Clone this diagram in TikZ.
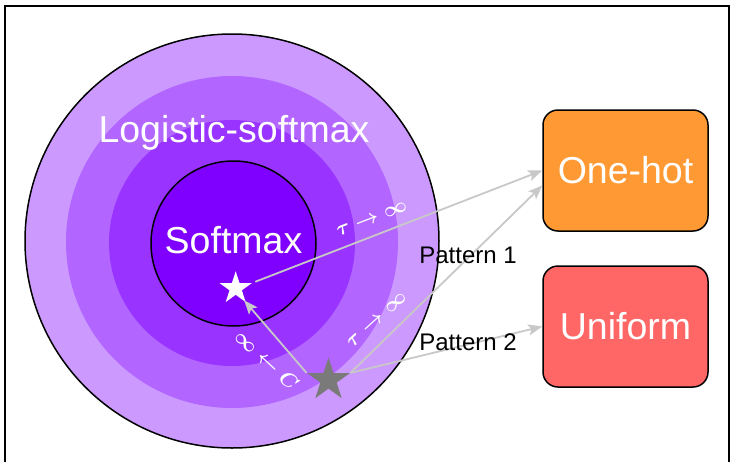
\documentclass[tikz,border=0pt]{standalone}
\usepackage{fontspec}
\setmainfont{Liberation Sans}
\usetikzlibrary{shapes.geometric,arrows.meta}
\definecolor{ringA}{HTML}{CC99FF}
\definecolor{ringB}{HTML}{B266FF}
\definecolor{ringC}{HTML}{9933FF}
\definecolor{ringD}{HTML}{7F00FF}
\definecolor{boxOrange}{HTML}{FF9933}
\definecolor{boxRed}{HTML}{FF6666}
\definecolor{arrowGray}{HTML}{C8C8C8}
\definecolor{starGray}{HTML}{7A7A7A}
\tikzset{
  bigtext/.style={text=white,font=\fontsize{37.5}{44}\selectfont,inner sep=0pt},
  patlabel/.style={text=black,font=\fontsize{24}{29}\selectfont,inner sep=0pt,anchor=base},
  limlabel/.style={text=white,font=\fontsize{22}{26}\selectfont\boldmath,inner sep=0pt},
  resbox/.style={draw=black,line width=1.5pt,rounded corners=15pt,minimum width=165pt,minimum height=121pt,
    text=white,font=\fontsize{37.5}{44}\selectfont,inner sep=0pt},
  starnode/.style={star,star points=5,star point ratio=2.618,inner sep=0pt,draw=none},
  conn/.style={draw=arrowGray,line width=1.8pt,-{Stealth[length=14pt,width=11pt,inset=3pt]}},
}
\begin{document}
\begin{tikzpicture}[x=1pt,y=-1pt]
\useasboundingbox (0,0) rectangle (734,461);
% frame
\draw[line width=1.5pt] (5,470) -- (5,6) -- (729,6) -- (729,470);
% rings
\fill[ringA] (232,241) circle[radius=207];
\fill[ringB] (232,242) circle[radius=166];
\fill[ringC] (232,243) circle[radius=123];
\draw[line width=1.5pt] (232,241) circle[radius=207];
\filldraw[fill=ringD,draw=black,line width=1.5pt] (233.5,243.5) circle[radius=82.5];
% texts in rings
\node[bigtext,anchor=base] (logtxt) at (234,142) {Logistic-softmax};
\node[bigtext,anchor=base] (softtxt) at (233.5,253) {Softmax};
% boxes
\node[resbox,fill=boxOrange] (onehot) at (625.5,170.5) {One-hot};
\node[resbox,fill=boxRed] (uniform) at (625.5,326.5) {Uniform};
% stars
\node[starnode,fill=white,minimum size=34pt] (ws) at (235.7,288.3) {};
\node[starnode,fill=starGray,minimum size=45pt] (gs) at (328.5,380) {};
% connectors
\draw[conn,shorten <=3pt] (ws.outer point 5) -- (onehot.west);
\draw[conn] (gs.outer point 5) -- ([yshift=-15pt]onehot.west);
\draw[conn] (gs.outer point 5) -- (uniform.west);
\draw[conn,shorten >=-3pt] (gs.outer point 2) -- (ws.outer point 4);
% labels
\node[patlabel] (p1) at (468,263) {Pattern 1};
\node[patlabel] (p2) at (468,350) {Pattern 2};
\node[limlabel,rotate=21] (lim1) at (372,219) {$\tau \to \infty$};
\node[limlabel,rotate=42] (lim2) at (377,320) {$\tau \to \infty$};
\node[limlabel,rotate=-43] (lim3) at (267,360) {$\infty \leftarrow C$};
\end{tikzpicture}
\end{document}
